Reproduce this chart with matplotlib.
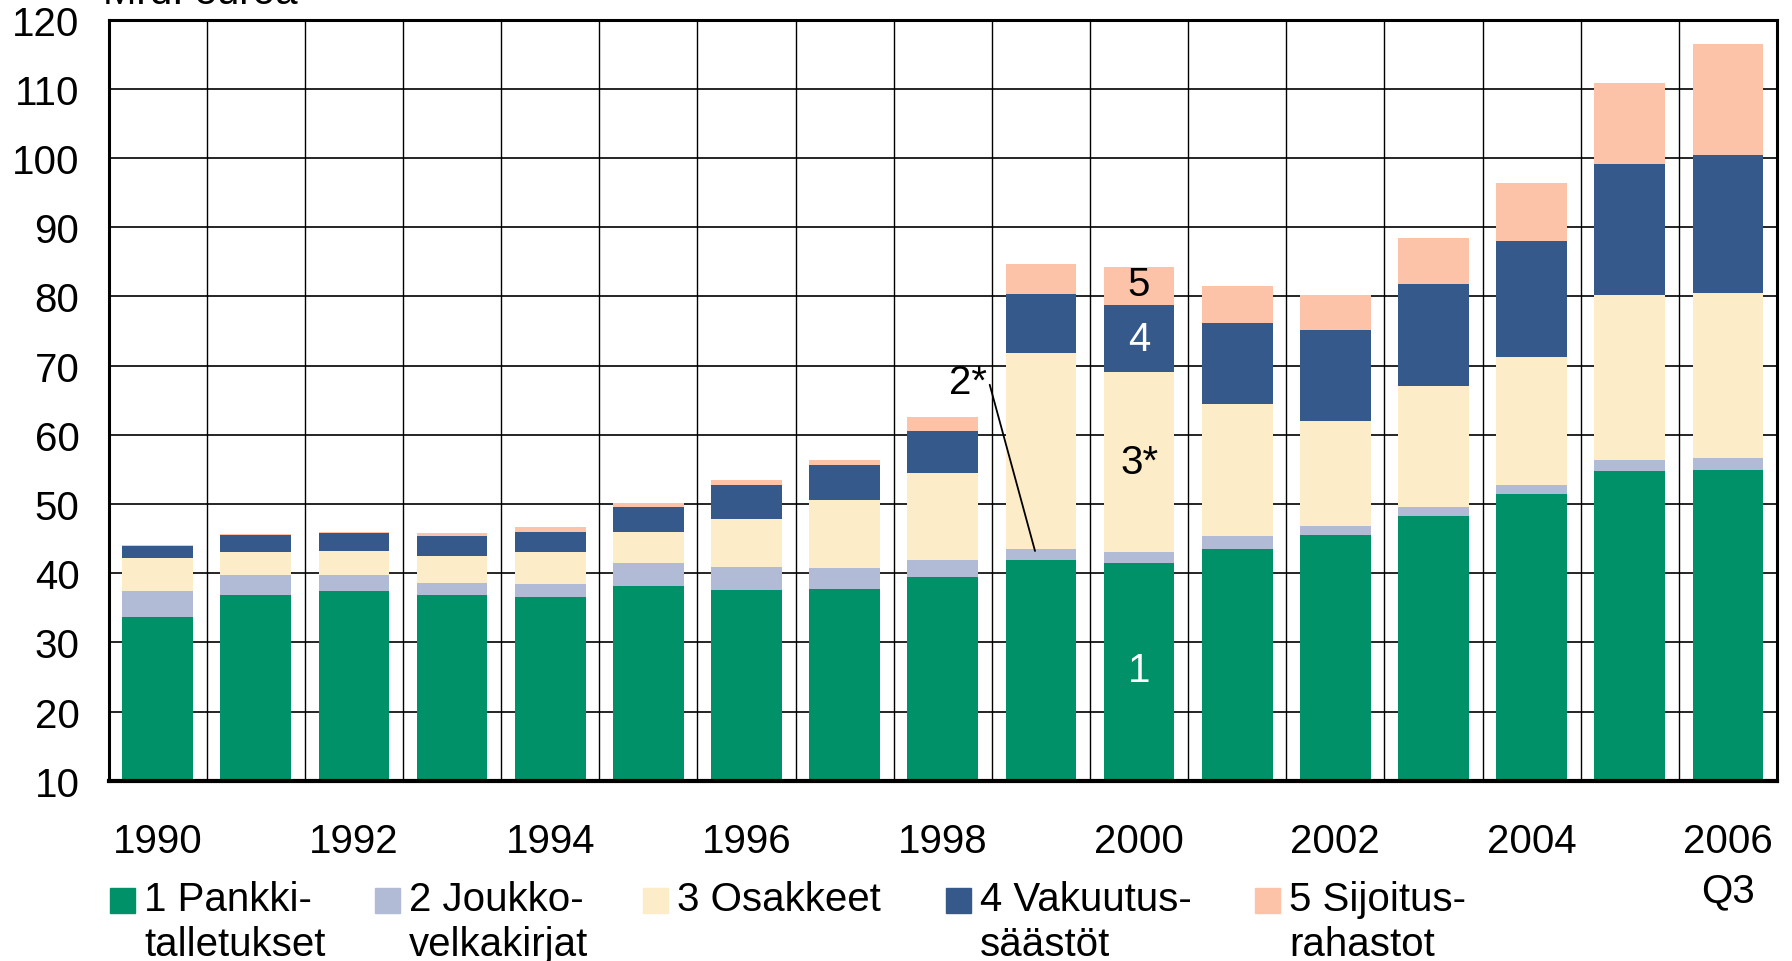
import numpy as np
import matplotlib.pyplot as plt
from matplotlib.patches import Rectangle

plt.rcParams['font.family'] = ['Liberation Sans', 'DejaVu Sans']

#Data (Mrd. euroa)
years = ['1990', '1991', '1992', '1993', '1994', '1995', '1996', '1997', '1998',
         '1999', '2000', '2001', '2002', '2003', '2004', '2005', '2006\nQ3']
tick_labels = ['1990', '', '1992', '', '1994', '', '1996', '', '1998',
               '', '2000', '', '2002', '', '2004', '', '2006\nQ3']
pankki = [33.6, 36.9, 37.4, 36.9, 36.6, 38.2, 37.6, 37.7, 39.4,
          41.9, 41.5, 43.5, 45.5, 48.2, 51.5, 54.8, 54.9]
joukko = [3.8, 2.8, 2.3, 1.7, 1.8, 3.2, 3.3, 3.0, 2.5,
          1.6, 1.5, 1.8, 1.3, 1.3, 1.3, 1.6, 1.7]
osakkeet = [4.8, 3.3, 3.5, 3.9, 4.6, 4.6, 6.9, 9.8, 12.5,
            28.3, 26.0, 19.2, 15.2, 17.6, 18.5, 23.8, 23.9]
vakuutus = [1.7, 2.5, 2.6, 2.8, 3.0, 3.6, 5.0, 5.1, 6.1,
            8.6, 9.7, 11.7, 13.2, 14.7, 16.7, 19.0, 20.0]
sijoitus = [0.2, 0.2, 0.2, 0.5, 0.7, 0.5, 0.6, 0.8, 2.0,
            4.3, 5.5, 5.3, 5.0, 6.7, 8.4, 11.7, 15.9]

series = [pankki, joukko, osakkeet, vakuutus, sijoitus]
labels = ['1 Pankki-\ntalletukset', '2 Joukko-\nvelkakirjat', '3 Osakkeet',
          '4 Vakuutus-\nsäästöt', '5 Sijoitus-\nrahastot']
colors = ['#009168', '#b1bbd5', '#fdecc8', '#36598c', '#fdc3a9']

fs = 29
fig = plt.figure(figsize=(17.92, 9.62), dpi=100)
ax = fig.add_axes([0.0606, 0.1874, 0.9310, 0.7912])

x = np.arange(len(years))
bottom = np.zeros(len(years))
for vals, c in zip(series, colors):
    ax.bar(x, vals, 0.72, bottom=bottom, color=c, zorder=2)
    bottom += np.array(vals)

ax.set_xlim(-0.5, len(years) - 0.5)
ax.set_ylim(10, 120)
ax.set_yticks(np.arange(10, 121, 10))
ax.set_xticks(x)
ax.set_xticklabels(tick_labels, linespacing=1.35)
ax.tick_params(axis='both', length=0, labelsize=fs)
ax.tick_params(axis='y', pad=21)
ax.tick_params(axis='x', pad=30)

#Gitter
for yv in np.arange(20, 120, 10):
    ax.axhline(yv, color='black', lw=1.2, zorder=1)
for xv in x[:-1] + 0.5:
    ax.axvline(xv, color='black', lw=1.0, zorder=1)
for s in ax.spines.values():
    s.set_linewidth(2.2)
ax.spines['bottom'].set_linewidth(3)

#Beschriftungen im Balken 2000
i = 10
ax.text(i, 81.8, '5', ha='center', va='center', fontsize=fs, color='black')
ax.text(i, 73.9, '4', ha='center', va='center', fontsize=fs, color='white')
ax.text(i, 56.1, '3*', ha='center', va='center', fontsize=fs, color='black')
ax.text(i, 26.0, '1', ha='center', va='center', fontsize=fs, color='white')
ax.annotate('2*', xy=(8.94, 43.2), xytext=(8.45, 67.6), fontsize=fs,
            ha='right', va='center',
            arrowprops=dict(arrowstyle='-', color='black', lw=1.3,
                            shrinkA=0, shrinkB=0, relpos=(1.0, 0.7)))

#Einheit (oben abgeschnitten wie im Original)
fig.text(103 / 1792, 1 - 3.5 / 962, 'Mrd. euroa', fontsize=fs, va='baseline')

#Legende
leg_x = [110, 375, 643, 946, 1255]
for lx, lab, c in zip(leg_x, labels, colors):
    fig.patches.append(Rectangle((lx / 1792, 1 - 914 / 962), 25 / 1792, 25 / 962,
                                 transform=fig.transFigure, color=c))
    fig.text((lx + 34) / 1792, 1 - 881 / 962, lab, fontsize=fs, va='top',
             ha='left', linespacing=1.25, transform=fig.transFigure)

fig.savefig('out.png', dpi=100)
